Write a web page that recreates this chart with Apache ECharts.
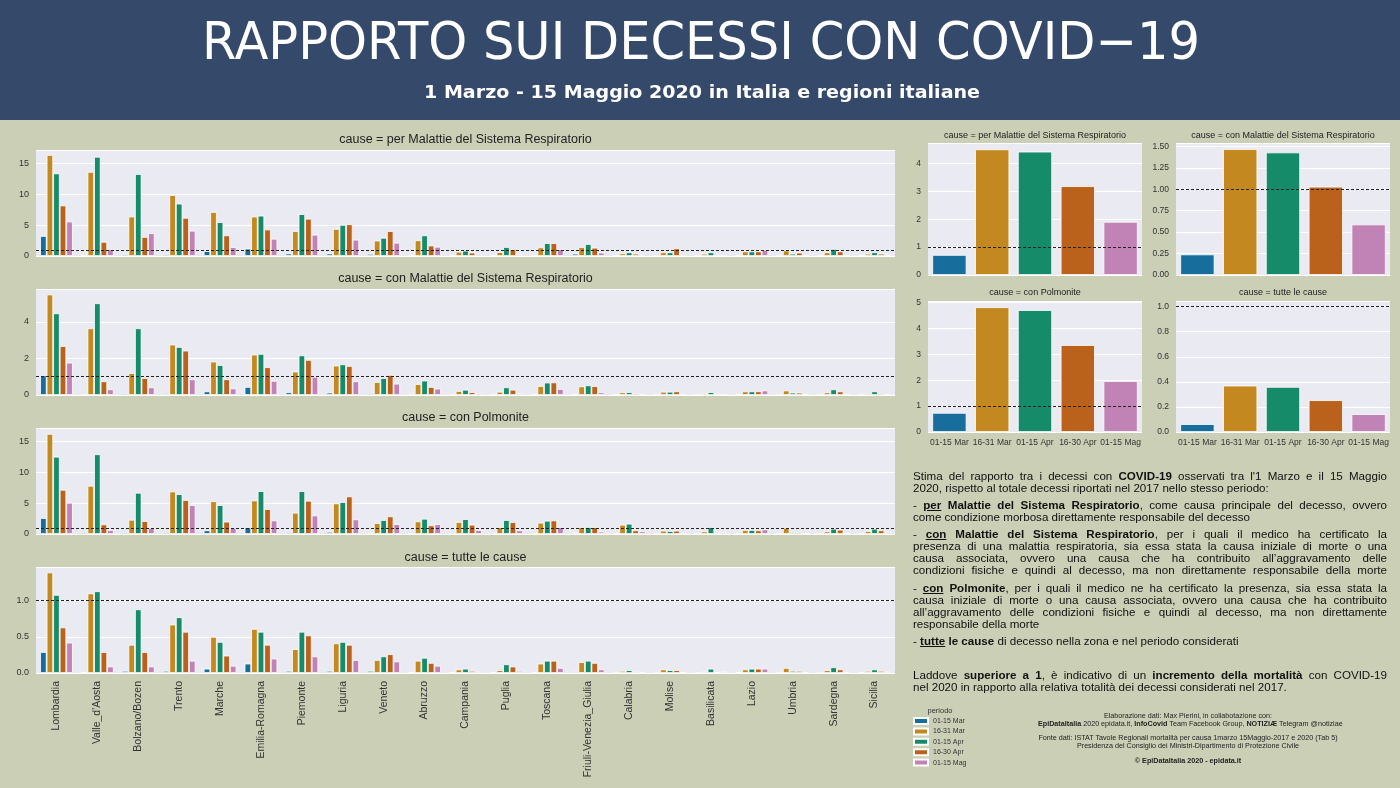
<!DOCTYPE html>
<html lang="it">
<head>
<meta charset="UTF-8">
<title>Rapporto sui decessi con COVID-19</title>
<script src="https://cdn.jsdelivr.net/npm/echarts@6/dist/echarts.min.js"></script>
<style>
  body { margin: 0; background: #CBCFB6; }
  #wrap { position: relative; width: 1400px; height: 788px; overflow: hidden; }
  #chart { position: absolute; left: 0; top: 0; width: 1400px; height: 788px; }
  .note { position: absolute; left: 913px; width: 474px; font-family: 'Liberation Sans', Arial, sans-serif;
          font-size: 11.6px; color: #111; }
  .note div { height: 12px; line-height: 12px; white-space: nowrap; }
  .note .j { text-align: justify; text-align-last: justify; }
  .note b u { text-decoration-thickness: 1px; text-underline-offset: 1px; }
  #credits { position: absolute; left: 1038px; width: 300px; top: 712px; text-align: center;
             font-family: 'Liberation Sans', Arial, sans-serif; font-size: 7.2px; color: #222; }
  #credits div { height: 8px; line-height: 8px; white-space: nowrap; }
</style>
</head>
<body>
<div id="wrap">
  <div id="chart"></div>

  <div class="note" style="top:470px">
    <div class="j">Stima del rapporto tra i decessi con <b>COVID-19</b> osservati tra l'1 Marzo e il 15 Maggio</div>
    <div>2020, rispetto al totale decessi riportati nel 2017 nello stesso periodo:</div>
  </div>
  <div class="note" style="top:499px">
    <div class="j">- <b><u>per</u> Malattie del Sistema Respiratorio</b>, come causa principale del decesso, ovvero</div>
    <div>come condizione morbosa direttamente responsabile del decesso</div>
  </div>
  <div class="note" style="top:528px">
    <div class="j">- <b><u>con</u> Malattie del Sistema Respiratorio</b>, per i quali il medico ha certificato la</div>
    <div class="j">presenza di una malattia respiratoria, sia essa stata la causa iniziale di morte o una</div>
    <div class="j">causa associata, ovvero una causa che ha contribuito all’aggravamento delle</div>
    <div class="j">condizioni fisiche e quindi al decesso, ma non direttamente responsabile della morte</div>
  </div>
  <div class="note" style="top:582px">
    <div class="j">- <b><u>con</u> Polmonite</b>, per i quali il medico ne ha certificato la presenza, sia essa stata la</div>
    <div class="j">causa iniziale di morte o una causa associata, ovvero una causa che ha contribuito</div>
    <div class="j">all’aggravamento delle condizioni fisiche e quindi al decesso, ma non direttamente</div>
    <div>responsabile della morte</div>
  </div>
  <div class="note" style="top:635px">
    <div>- <b><u>tutte</u> le cause</b> di decesso nella zona e nel periodo considerati</div>
  </div>
  <div class="note" style="top:669px">
    <div class="j">Laddove <b>superiore a 1</b>, è indicativo di un <b>incremento della mortalità</b> con COVID-19</div>
    <div>nel 2020 in rapporto alla relativa totalità dei decessi considerati nel 2017.</div>
  </div>

  <div id="credits">
    <div>Elaborazione dati: Max Pierini, in collabotazione con:</div>
    <div><b>EpiDataItalia</b> 2020 epidata.it, <b>InfoCovid</b> Team Facebook Group, <b>NOTIZIÆ</b> Telegram @notiziae</div>
    <div style="margin-top:6px">Fonte dati: ISTAT Tavole Regionali mortalità per causa 1marzo 15Maggio-2017 e 2020 (Tab 5)</div>
    <div>Presidenza del Consiglio dei Ministri-Dipartimento di Protezione Civile</div>
    <div style="margin-top:7px"><b>© EpiDataItalia 2020 - epidata.it</b></div>
  </div>
</div>

<script type="text/javascript">
// categorie
var regioni = ['Lombardia', "Valle_d'Aosta", 'Bolzano/Bozen', 'Trento', 'Marche', 'Emilia-Romagna',
  'Piemonte', 'Liguria', 'Veneto', 'Abruzzo', 'Campania', 'Puglia', 'Toscana', 'Friuli-Venezia_Giulia',
  'Calabria', 'Molise', 'Basilicata', 'Lazio', 'Umbria', 'Sardegna', 'Sicilia'];
var periodi = ['01-15 Mar', '16-31 Mar', '01-15 Apr', '16-30 Apr', '01-15 Mag'];
var colori = ['#176D9C', '#C38820', '#168B6A', '#BA611B', '#C183B5'];

// cause = per Malattie del Sistema Respiratorio (una riga per periodo)
var perMar1 = [3.25, 0.1, 0.3, 0.3, 0.8, 1.2, 0.4, 0.4, 0.35, 0.05, 0.05, 0.05, 0.1, 0.38, 0.03, 0, 0, 0.05, 0, 0, 0.05];
var perMar2 = [16.4, 13.65, 6.4, 9.9, 7.15, 6.4, 4.05, 4.4, 2.5, 2.55, 0.7, 0.65, 1.4, 1.46, 0.43, 0.6, 0.38, 0.75, 0.9, 0.6, 0.38];
var perApr1 = [13.4, 16.1, 13.3, 8.5, 5.5, 6.55, 6.8, 5.05, 2.95, 3.35, 0.87, 1.46, 2.1, 1.95, 0.6, 0.6, 0.6, 0.75, 0.38, 1.15, 0.6];
var perApr2 = [8.2, 2.3, 3.1, 6.2, 3.35, 4.3, 6.05, 5.15, 4.05, 1.7, 0.55, 1.08, 2.1, 1.35, 0.38, 1.25, 0.1, 0.75, 0.55, 0.75, 0.38];
var perMag1 = [5.6, 1.1, 3.7, 4.1, 1.45, 2.8, 3.45, 2.65, 2.15, 1.5, 0.27, 0.3, 1.1, 0.55, 0.1, 0.05, 0.05, 1.0, 0.05, 0.1, 0.2];

// cause = con Malattie del Sistema Respiratorio
var conMar1 = [1.08, 0.05, 0.1, 0.09, 0.2, 0.44, 0.15, 0.13, 0.1, 0, 0.02, 0.02, 0.03, 0.05, 0.01, 0, 0, 0.02, 0, 0, 0.02];
var conMar2 = [5.5, 3.65, 1.2, 2.76, 1.83, 2.21, 1.28, 1.61, 0.71, 0.6, 0.22, 0.18, 0.49, 0.47, 0.15, 0.18, 0.1, 0.2, 0.25, 0.15, 0.1];
var conApr1 = [4.47, 5.02, 3.65, 2.63, 1.64, 2.25, 2.17, 1.68, 0.93, 0.79, 0.29, 0.42, 0.68, 0.53, 0.16, 0.18, 0.16, 0.2, 0.13, 0.31, 0.2];
var conApr2 = [2.68, 0.75, 0.93, 2.43, 0.86, 1.52, 1.92, 1.59, 1.1, 0.44, 0.16, 0.29, 0.69, 0.49, 0.1, 0.2, 0.03, 0.2, 0.13, 0.2, 0.1];
var conMag1 = [1.77, 0.31, 0.42, 0.86, 0.36, 0.77, 1.0, 0.75, 0.62, 0.35, 0.1, 0.1, 0.33, 0.15, 0.05, 0.02, 0.02, 0.25, 0.05, 0.02, 0.05];

// cause = con Polmonite
var polMar1 = [2.58, 0.3, 0.3, 0.3, 0.6, 1.08, 0.3, 0.35, 0.2, 0.05, 0.05, 0.2, 0.1, 0.2, 0.05, 0, 0, 0.05, 0, 0, 0.05];
var polMar2 = [16.2, 7.8, 2.3, 6.88, 5.3, 5.43, 3.44, 4.95, 1.77, 2.04, 1.94, 1.13, 1.83, 1.13, 1.5, 0.54, 0.43, 0.65, 1.0, 0.43, 0.48];
var polApr1 = [12.5, 12.9, 6.67, 6.45, 4.68, 6.94, 6.94, 5.16, 2.26, 2.47, 2.42, 2.26, 2.15, 1.13, 1.67, 0.48, 1.13, 0.65, 0.3, 0.86, 0.86];
var polApr2 = [7.15, 1.56, 2.1, 5.5, 2.0, 4.03, 5.38, 6.08, 2.85, 1.4, 1.5, 1.94, 2.2, 1.13, 0.6, 0.54, 0.05, 0.6, 0.3, 0.7, 0.6];
var polMag1 = [5.05, 0.65, 1.0, 4.68, 1.0, 2.2, 3.0, 2.37, 1.6, 1.6, 0.65, 0.6, 1.13, 0.38, 0.43, 0.05, 0.3, 0.75, 0.05, 0.05, 0.3];

// cause = tutte le cause
var tutMar1 = [0.29, 0.01, 0.03, 0.03, 0.06, 0.13, 0.03, 0.03, 0.03, 0.01, 0.01, 0.01, 0.01, 0.02, 0.005, 0, 0, 0.01, 0, 0, 0.01];
var tutMar2 = [1.39, 1.10, 0.39, 0.67, 0.5, 0.61, 0.33, 0.41, 0.18, 0.17, 0.05, 0.04, 0.13, 0.15, 0.03, 0.05, 0.02, 0.05, 0.07, 0.04, 0.03];
var tutApr1 = [1.08, 1.13, 0.88, 0.77, 0.43, 0.57, 0.57, 0.43, 0.23, 0.21, 0.06, 0.12, 0.17, 0.17, 0.04, 0.04, 0.06, 0.06, 0.03, 0.08, 0.05];
var tutApr2 = [0.63, 0.29, 0.29, 0.57, 0.24, 0.39, 0.52, 0.39, 0.26, 0.14, 0.03, 0.09, 0.17, 0.14, 0.02, 0.04, 0.01, 0.06, 0.03, 0.05, 0.03];
var tutMag1 = [0.42, 0.09, 0.09, 0.17, 0.1, 0.2, 0.23, 0.18, 0.16, 0.1, 0.02, 0.03, 0.07, 0.05, 0.01, 0.01, 0.02, 0.06, 0.01, 0.01, 0.02];

// Italia, per periodo
var italiaPer = [0.72, 4.51, 4.43, 3.19, 1.91];
var italiaCon = [0.24, 1.47, 1.43, 1.03, 0.59];
var italiaPol = [0.74, 4.82, 4.71, 3.36, 1.97];
var italiaTut = [0.063, 0.37, 0.36, 0.254, 0.143];

var cause = ['per Malattie del Sistema Respiratorio', 'con Malattie del Sistema Respiratorio', 'con Polmonite', 'tutte le cause'];
var regionali = [
  [perMar1, perMar2, perApr1, perApr2, perMag1],
  [conMar1, conMar2, conApr1, conApr2, conMag1],
  [polMar1, polMar2, polApr1, polApr2, polMag1],
  [tutMar1, tutMar2, tutApr1, tutApr2, tutMag1]
];
var italia = [italiaPer, italiaCon, italiaPol, italiaTut];

var myChart = echarts.init(document.getElementById('chart'));

var FONT = "'Liberation Sans', Arial, sans-serif";
var GRIGIO = '#333';

// la testata usa un carattere stretto: si restringe in orizzontale fino alla larghezza voluta
var ctx = document.createElement('canvas').getContext('2d');
function stretto(testo, font, larghezza) {
  ctx.font = font;
  return larghezza / ctx.measureText(testo).width;
}

// assi: [max, passo, decimali]
var scaleSx = [[17.2, 5, 0], [5.8, 2, 0], [17.15, 5, 0], [1.465, 0.5, 1]];
var scaleDx = [[4.74, 1, 0], [1.54, 0.25, 2], [5.06, 1, 0], [1.045, 0.2, 1]];

var grids = [], xAxes = [], yAxes = [], series = [], graphic = [];

// testata
var titolo = 'RAPPORTO SUI DECESSI CON COVID\u221219';
var fontTitolo = "52px 'DejaVu Sans', sans-serif";
var sottotitolo = '1 Marzo - 15 Maggio 2020 in Italia e regioni italiane';
var fontSotto = "bold 18px 'DejaVu Sans', sans-serif";
graphic.push({ type: 'rect', shape: { x: 0, y: 0, width: 1400, height: 120 }, style: { fill: '#35496B' }, silent: true });
graphic.push({ type: 'text', x: 701, y: 45, scaleX: stretto(titolo, fontTitolo, 998), style: {
  text: titolo, fill: '#fff', align: 'center', verticalAlign: 'middle', font: fontTitolo } });
graphic.push({ type: 'text', x: 702, y: 93, scaleX: stretto(sottotitolo, fontSotto, 556), style: {
  text: sottotitolo, fill: '#fff', align: 'center', verticalAlign: 'middle', font: fontSotto } });

function yAxis(gi, sc, fs, margin) {
  return {
    type: 'value', gridIndex: gi, min: 0, max: sc[0], interval: sc[1],
    axisLine: { show: false }, axisTick: { show: false },
    axisLabel: { color: GRIGIO, fontSize: fs, fontFamily: FONT, margin: margin, showMaxLabel: false,
      formatter: function (v) { return v.toFixed(sc[2]); } },
    splitLine: { lineStyle: { color: '#fff', width: 1.2 } }
  };
}

function lineaUno() {
  return {
    silent: true, symbol: 'none', label: { show: false },
    lineStyle: { type: [3, 2], color: '#222', width: 1 },
    data: [{ yAxis: 1 }]
  };
}

// pannelli regionali
var topSx = [150, 289, 428, 567];
var titoloSx = [140, 279, 418, 557.5];
for (var p = 0; p < 4; p++) {
  grids.push({ left: 36, width: 859, top: topSx[p], height: 106, show: true, backgroundColor: '#EAEAF2', borderWidth: 0 });
  xAxes.push({
    type: 'category', gridIndex: p, data: regioni,
    axisLine: { show: false }, axisTick: { show: false },
    axisLabel: { show: p === 3, rotate: 90, interval: 0, color: GRIGIO, fontSize: 10.5, fontFamily: FONT, margin: 8 }
  });
  yAxes.push(yAxis(p, scaleSx[p], 9, 7));
  for (var k = 0; k < 5; k++) {
    var s = {
      type: 'bar', name: periodi[k], xAxisIndex: p, yAxisIndex: p, data: regionali[p][k],
      barGap: '0%', barCategoryGap: '20%',
      itemStyle: { color: colori[k], borderColor: '#fff', borderWidth: 0.8 }
    };
    if (k === 4) s.markLine = lineaUno();
    series.push(s);
  }
  graphic.push({ type: 'text', x: 465.5, y: titoloSx[p], style: {
    text: 'cause = ' + cause[p], fill: '#222', align: 'center', verticalAlign: 'middle', font: '12.5px ' + FONT } });
}

// pannelli Italia
var posDx = [[928, 143, 132], [1176, 143, 132], [928, 301, 131], [1176, 301, 131]];
var titoloDx = [135.5, 135.5, 293, 293];
for (var q = 0; q < 4; q++) {
  var gi = 4 + q;
  grids.push({ left: posDx[q][0], width: 214, top: posDx[q][1], height: posDx[q][2],
    show: true, backgroundColor: '#EAEAF2', borderWidth: 0 });
  xAxes.push({
    type: 'category', gridIndex: gi, data: periodi,
    axisLine: { show: false }, axisTick: { show: false },
    axisLabel: { show: q >= 2, interval: 0, color: GRIGIO, fontSize: 8.5, fontFamily: FONT, margin: 6 }
  });
  yAxes.push(yAxis(gi, scaleDx[q], 8.5, 7));
  series.push({
    type: 'bar', name: 'Italia', xAxisIndex: gi, yAxisIndex: gi, barCategoryGap: '20%',
    data: italia[q].map(function (v, i) {
      return { value: v, itemStyle: { color: colori[i] } };
    }),
    itemStyle: { borderColor: '#fff', borderWidth: 0.8 },
    markLine: lineaUno()
  });
  graphic.push({ type: 'text', x: posDx[q][0] + 107, y: titoloDx[q], style: {
    text: 'cause = ' + cause[q], fill: '#222', align: 'center', verticalAlign: 'middle', font: '9px ' + FONT } });
}

// titolo legenda
graphic.push({ type: 'text', x: 940, y: 711, style: {
  text: 'periodo', fill: GRIGIO, align: 'center', verticalAlign: 'middle', font: '7.5px ' + FONT } });

var option = {
  animation: false,
  backgroundColor: '#CBCFB6',
  graphic: graphic,
  legend: {
    data: periodi, orient: 'vertical', left: 913, top: 717, padding: 0,
    icon: 'rect', itemWidth: 14, itemHeight: 6, itemGap: 2.4,
    textStyle: { color: GRIGIO, fontSize: 7, fontFamily: FONT, lineHeight: 8 }
  },
  grid: grids,
  xAxis: xAxes,
  yAxis: yAxes,
  series: series
};

myChart.setOption(option);
</script>
</body>
</html>
